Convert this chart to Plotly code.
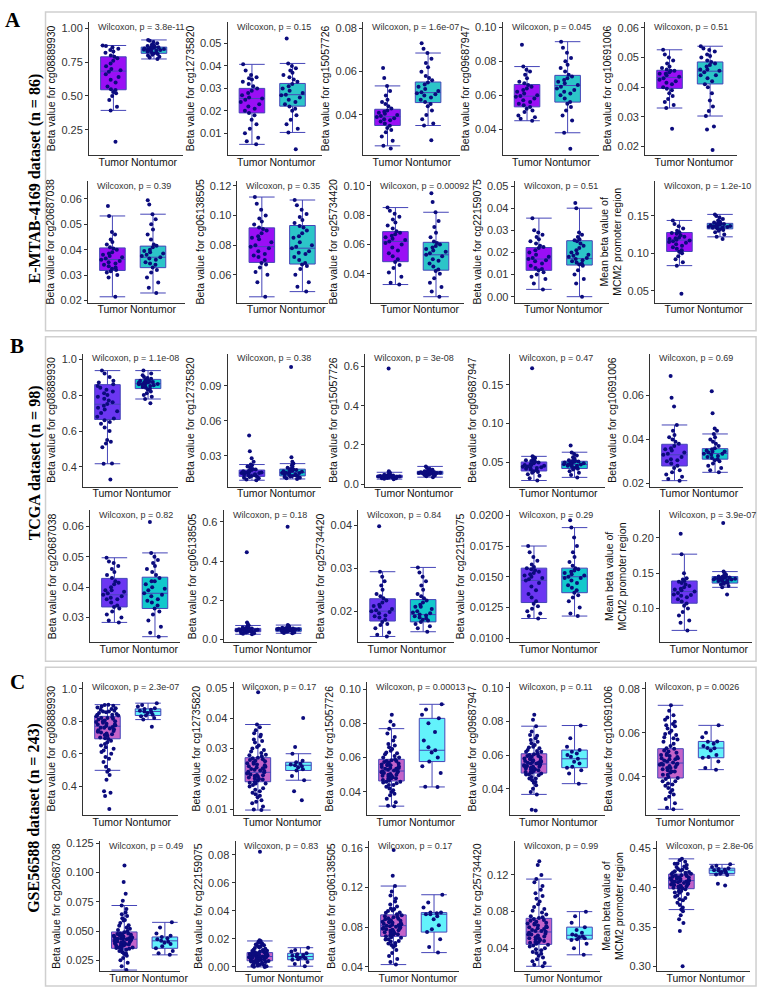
import plotly.graph_objects as go

# ---------------- DATA ----------------
GROUPS = ["Tumor", "Nontumor"]
PANELS = ["A", "B", "C"]
DATASETS = ["E-MTAB-4169 dataset (n = 86)", "TCGA dataset (n = 98)", "GSE56588 dataset (n = 243)"]

A_PROBES = ["cg08889930", "cg12735820", "cg15057726", "cg09687947", "cg10691006",
            "cg20687038", "cg06138505", "cg25734420", "cg22159075", "MCM2"]
B_PROBES = ["cg08889930", "cg12735820", "cg15057726", "cg09687947", "cg10691006",
            "cg20687038", "cg06138505", "cg25734420", "cg22159075", "MCM2"]
C_PROBES = ["cg08889930", "cg12735820", "cg15057726", "cg09687947", "cg10691006",
            "cg20687038", "cg22159075", "cg06138505", "cg25734420", "MCM2"]

A_PVALUES = ["3.8e-11", "0.15", "1.6e-07", "0.045", "0.51", "0.39", "0.35", "0.00092", "0.51", "1.2e-10"]
B_PVALUES = ["1.1e-08", "0.38", "3e-08", "0.47", "0.69", "0.82", "0.18", "0.84", "0.29", "3.9e-07"]
C_PVALUES = ["2.3e-07", "0.17", "0.00013", "0.11", "0.0026", "0.49", "0.83", "0.17", "0.99", "2.8e-06"]

# tick values / labels per subplot (1..30)
TV01 = [0.25, 0.5, 0.75, 1.0]; TL01 = ["0.25", "0.50", "0.75", "1.00"]
TV02 = [0.01, 0.02, 0.03, 0.04, 0.05]; TL02 = ["0.01", "0.02", "0.03", "0.04", "0.05"]
TV03 = [0.04, 0.06, 0.08]; TL03 = ["0.04", "0.06", "0.08"]
TV04 = [0.04, 0.06, 0.08, 0.10]; TL04 = ["0.04", "0.06", "0.08", "0.10"]
TV05 = [0.02, 0.03, 0.04, 0.05, 0.06]; TL05 = ["0.02", "0.03", "0.04", "0.05", "0.06"]
TV06 = [0.02, 0.03, 0.04, 0.05, 0.06]; TL06 = ["0.02", "0.03", "0.04", "0.05", "0.06"]
TV07 = [0.06, 0.08, 0.10, 0.12]; TL07 = ["0.06", "0.08", "0.10", "0.12"]
TV08 = [0.04, 0.06, 0.08, 0.10]; TL08 = ["0.04", "0.06", "0.08", "0.10"]
TV09 = [0.0, 0.01, 0.02, 0.03, 0.04, 0.05]; TL09 = ["0.00", "0.01", "0.02", "0.03", "0.04", "0.05"]
TV10 = [0.05, 0.10, 0.15]; TL10 = ["0.05", "0.10", "0.15"]
TV11 = [0.4, 0.6, 0.8, 1.0]; TL11 = ["0.4", "0.6", "0.8", "1.0"]
TV12 = [0.03, 0.06, 0.09]; TL12 = ["0.03", "0.06", "0.09"]
TV13 = [0.0, 0.2, 0.4, 0.6]; TL13 = ["0.0", "0.2", "0.4", "0.6"]
TV14 = [0.05, 0.10, 0.15]; TL14 = ["0.05", "0.10", "0.15"]
TV15 = [0.02, 0.04, 0.06]; TL15 = ["0.02", "0.04", "0.06"]
TV16 = [0.03, 0.04, 0.05, 0.06]; TL16 = ["0.03", "0.04", "0.05", "0.06"]
TV17 = [0.0, 0.2, 0.4, 0.6]; TL17 = ["0.0", "0.2", "0.4", "0.6"]
TV18 = [0.02, 0.03, 0.04]; TL18 = ["0.02", "0.03", "0.04"]
TV19 = [0.01, 0.0125, 0.015, 0.0175, 0.02]; TL19 = ["0.0100", "0.0125", "0.0150", "0.0175", "0.0200"]
TV20 = [0.10, 0.15, 0.20]; TL20 = ["0.10", "0.15", "0.20"]
TV21 = [0.4, 0.6, 0.8, 1.0]; TL21 = ["0.4", "0.6", "0.8", "1.0"]
TV22 = [0.01, 0.02, 0.03, 0.04, 0.05]; TL22 = ["0.01", "0.02", "0.03", "0.04", "0.05"]
TV23 = [0.04, 0.06, 0.08, 0.10]; TL23 = ["0.04", "0.06", "0.08", "0.10"]
TV24 = [0.04, 0.06, 0.08, 0.10]; TL24 = ["0.04", "0.06", "0.08", "0.10"]
TV25 = [0.04, 0.06, 0.08]; TL25 = ["0.04", "0.06", "0.08"]
TV26 = [0.025, 0.05, 0.075, 0.1, 0.125]; TL26 = ["0.025", "0.050", "0.075", "0.100", "0.125"]
TV27 = [0.0, 0.02, 0.04, 0.06, 0.08]; TL27 = ["0.00", "0.02", "0.04", "0.06", "0.08"]
TV28 = [0.04, 0.08, 0.12, 0.16]; TL28 = ["0.04", "0.08", "0.12", "0.16"]
TV29 = [0.04, 0.08, 0.12]; TL29 = ["0.04", "0.08", "0.12"]
TV30 = [0.30, 0.35, 0.40, 0.45]; TL30 = ["0.30", "0.35", "0.40", "0.45"]

# box statistics [lower whisker, Q1, median, Q3, upper whisker]
TS01 = [0.393, 0.546, 0.684, 0.79, 0.874]; NS01 = [0.774, 0.816, 0.842, 0.862, 0.915]
TS02 = [0.0051, 0.0191, 0.0255, 0.030, 0.0407]; NS02 = [0.0104, 0.0221, 0.0272, 0.0322, 0.0411]
TS03 = [0.0257, 0.0351, 0.0392, 0.0426, 0.0534]; NS03 = [0.0351, 0.0457, 0.0503, 0.0552, 0.0686]
TS04 = [0.0449, 0.0531, 0.0594, 0.0663, 0.0769]; NS04 = [0.0378, 0.0559, 0.0657, 0.0717, 0.0916]
TS05 = [0.033, 0.0396, 0.0433, 0.0457, 0.0526]; NS05 = [0.0303, 0.0411, 0.0454, 0.0485, 0.0538]
TS06 = [0.0214, 0.0318, 0.0361, 0.0407, 0.0533]; NS06 = [0.0229, 0.0329, 0.037, 0.0414, 0.054]
TS07 = [0.0452, 0.0684, 0.079, 0.0917, 0.1125]; NS07 = [0.0487, 0.0673, 0.078, 0.0933, 0.1105]
TS08 = [0.0327, 0.0483, 0.0621, 0.0688, 0.0852]; NS08 = [0.0244, 0.0425, 0.053, 0.0615, 0.082]
TS09 = [0.0033, 0.0119, 0.017, 0.0222, 0.0355]; NS09 = [0.0, 0.0143, 0.0172, 0.0253, 0.040]
TS10 = [0.0835, 0.1024, 0.1176, 0.1278, 0.1439]; NS10 = [0.122, 0.1327, 0.136, 0.14, 0.152]
TS11 = [0.418, 0.664, 0.749, 0.858, 0.936]; NS11 = [0.778, 0.836, 0.864, 0.887, 0.936]
TS12 = [0.0093, 0.0126, 0.0154, 0.018, 0.0227]; NS12 = [0.0104, 0.013, 0.016, 0.0188, 0.0235]
TS13 = [0.025, 0.033, 0.038, 0.045, 0.06]; NS13 = [0.035, 0.05, 0.058, 0.065, 0.09]
TS14 = [0.027, 0.0392, 0.0445, 0.0508, 0.058]; NS14 = [0.031, 0.0424, 0.0475, 0.0517, 0.0633]
TS15 = [0.0212, 0.0279, 0.033, 0.0378, 0.0466]; NS15 = [0.025, 0.031, 0.0336, 0.0358, 0.0425]
TS16 = [0.0284, 0.0335, 0.0375, 0.0429, 0.0497]; NS16 = [0.0237, 0.033, 0.038, 0.0433, 0.0513]
TS17 = [0.025, 0.038, 0.046, 0.055, 0.07]; NS17 = [0.03, 0.04, 0.05, 0.058, 0.072]
TS18 = [0.0141, 0.0177, 0.020, 0.0229, 0.0292]; NS18 = [0.0152, 0.0175, 0.0192, 0.0227, 0.0302]
TS19 = [0.0116, 0.0129, 0.0147, 0.0157, 0.0175]; NS19 = [0.0118, 0.0137, 0.015, 0.0157, 0.019]
TS20 = [0.069, 0.1075, 0.124, 0.139, 0.177]; NS20 = [0.13, 0.136, 0.1416, 0.1453, 0.1523]
TS21 = [0.498, 0.692, 0.769, 0.83, 0.902]; NS21 = [0.81, 0.835, 0.86, 0.876, 0.911]
TS22 = [0.0098, 0.0191, 0.0222, 0.027, 0.0379]; NS22 = [0.0196, 0.0228, 0.0245, 0.0255, 0.0283]
TS23 = [0.0317, 0.0464, 0.0522, 0.059, 0.0769]; NS23 = [0.0429, 0.0577, 0.0643, 0.0829, 0.0911]
TS24 = [0.0366, 0.0493, 0.0547, 0.0608, 0.0772]; NS24 = [0.043, 0.0525, 0.0578, 0.063, 0.0776]
TS25 = [0.0253, 0.0395, 0.0463, 0.0528, 0.0725]; NS25 = [0.0433, 0.0487, 0.0531, 0.0561, 0.0634]
TS26 = [0.0167, 0.0353, 0.0431, 0.0493, 0.0719]; NS26 = [0.0297, 0.0353, 0.0417, 0.045, 0.0575]
TS27 = [0.0, 0.0044, 0.0074, 0.0102, 0.0185]; NS27 = [0.0005, 0.0051, 0.0074, 0.0097, 0.0137]
TS28 = [0.0423, 0.0708, 0.0816, 0.0925, 0.1216]; NS28 = [0.0544, 0.0751, 0.0931, 0.0948, 0.1128]
TS29 = [0.0204, 0.0443, 0.0578, 0.0727, 0.1155]; NS29 = [0.0329, 0.05, 0.0542, 0.0631, 0.08]
TS30 = [0.3722, 0.3988, 0.4091, 0.4174, 0.4368]; NS30 = [0.4162, 0.4182, 0.4224, 0.4249, 0.4298]

# sample points (Tumor = T, Nontumor = N)
T01 = [0.16, 0.393, 0.42, 0.47, 0.50, 0.52, 0.53, 0.545, 0.55, 0.57, 0.60, 0.62, 0.64, 0.66, 0.68, 0.69, 0.70, 0.72, 0.74, 0.76, 0.78, 0.79, 0.80, 0.82, 0.83, 0.84, 0.85, 0.86, 0.87, 0.874]
N01 = [0.774, 0.785, 0.79, 0.80, 0.805, 0.81, 0.815, 0.82, 0.825, 0.83, 0.835, 0.838, 0.84, 0.842, 0.845, 0.848, 0.85, 0.852, 0.855, 0.858, 0.86, 0.862, 0.865, 0.87, 0.875, 0.88, 0.89, 0.90, 0.915, 0.91]
T02 = [0.0051, 0.0065, 0.008, 0.010, 0.012, 0.014, 0.016, 0.018, 0.019, 0.020, 0.021, 0.022, 0.023, 0.024, 0.025, 0.0255, 0.026, 0.027, 0.028, 0.029, 0.030, 0.031, 0.032, 0.033, 0.034, 0.035, 0.0345, 0.036, 0.038, 0.0407]
N02 = [0.0029, 0.0104, 0.012, 0.014, 0.016, 0.018, 0.020, 0.021, 0.022, 0.023, 0.024, 0.025, 0.026, 0.027, 0.0272, 0.028, 0.029, 0.030, 0.031, 0.032, 0.033, 0.034, 0.035, 0.036, 0.037, 0.038, 0.039, 0.040, 0.0411, 0.0522]
T03 = [0.0245, 0.0257, 0.028, 0.030, 0.032, 0.033, 0.034, 0.035, 0.036, 0.037, 0.0375, 0.038, 0.0385, 0.039, 0.0395, 0.040, 0.0405, 0.041, 0.0415, 0.042, 0.043, 0.044, 0.045, 0.046, 0.047, 0.049, 0.051, 0.0534, 0.057, 0.0617]
N03 = [0.0283, 0.0351, 0.036, 0.038, 0.040, 0.042, 0.044, 0.045, 0.046, 0.047, 0.048, 0.049, 0.050, 0.0505, 0.051, 0.052, 0.053, 0.054, 0.055, 0.056, 0.057, 0.058, 0.060, 0.062, 0.064, 0.066, 0.0686, 0.0706, 0.0731, 0.0495]
T04 = [0.0449, 0.046, 0.047, 0.048, 0.050, 0.051, 0.052, 0.053, 0.054, 0.055, 0.056, 0.057, 0.058, 0.059, 0.0595, 0.060, 0.061, 0.062, 0.063, 0.064, 0.065, 0.066, 0.067, 0.068, 0.070, 0.072, 0.074, 0.0769, 0.075, 0.0898]
N04 = [0.0284, 0.0378, 0.045, 0.048, 0.051, 0.053, 0.055, 0.056, 0.058, 0.060, 0.062, 0.063, 0.064, 0.065, 0.066, 0.067, 0.068, 0.069, 0.070, 0.071, 0.072, 0.074, 0.076, 0.078, 0.080, 0.082, 0.085, 0.088, 0.0916, 0.061]
T05 = [0.026, 0.033, 0.034, 0.035, 0.036, 0.037, 0.038, 0.039, 0.0395, 0.040, 0.041, 0.042, 0.0425, 0.043, 0.0435, 0.044, 0.0445, 0.045, 0.0455, 0.046, 0.0465, 0.047, 0.048, 0.049, 0.050, 0.051, 0.0526, 0.0415, 0.0445, 0.0455]
N05 = [0.0189, 0.0258, 0.0268, 0.0303, 0.032, 0.0335, 0.0355, 0.038, 0.040, 0.041, 0.042, 0.043, 0.044, 0.045, 0.0455, 0.046, 0.047, 0.0475, 0.048, 0.0485, 0.049, 0.050, 0.051, 0.052, 0.0525, 0.053, 0.0538, 0.044, 0.046, 0.0505]
T06 = [0.0214, 0.029, 0.030, 0.031, 0.0315, 0.032, 0.0325, 0.033, 0.034, 0.0345, 0.035, 0.0355, 0.036, 0.0365, 0.037, 0.0375, 0.038, 0.0385, 0.039, 0.040, 0.0405, 0.041, 0.042, 0.043, 0.044, 0.046, 0.047, 0.0533, 0.0572, 0.0335]
N06 = [0.0229, 0.025, 0.027, 0.029, 0.031, 0.032, 0.033, 0.034, 0.035, 0.036, 0.0365, 0.037, 0.0375, 0.038, 0.039, 0.040, 0.041, 0.0415, 0.042, 0.044, 0.046, 0.048, 0.050, 0.052, 0.054, 0.0578, 0.0595, 0.0345, 0.0385, 0.0395]
T07 = [0.0452, 0.055, 0.060, 0.062, 0.065, 0.067, 0.068, 0.070, 0.072, 0.074, 0.076, 0.078, 0.079, 0.080, 0.082, 0.084, 0.086, 0.088, 0.090, 0.091, 0.092, 0.094, 0.096, 0.098, 0.100, 0.104, 0.108, 0.1125, 0.073, 0.085]
N07 = [0.0487, 0.052, 0.055, 0.060, 0.064, 0.066, 0.067, 0.068, 0.070, 0.072, 0.074, 0.076, 0.078, 0.079, 0.080, 0.082, 0.085, 0.088, 0.090, 0.092, 0.093, 0.095, 0.097, 0.099, 0.101, 0.104, 0.107, 0.1105, 0.075, 0.086]
T08 = [0.0327, 0.034, 0.038, 0.041, 0.044, 0.046, 0.048, 0.050, 0.052, 0.054, 0.056, 0.058, 0.060, 0.061, 0.062, 0.063, 0.064, 0.065, 0.066, 0.067, 0.068, 0.069, 0.071, 0.073, 0.075, 0.077, 0.079, 0.081, 0.083, 0.0852]
N08 = [0.0244, 0.028, 0.031, 0.034, 0.037, 0.040, 0.042, 0.043, 0.045, 0.047, 0.049, 0.050, 0.052, 0.053, 0.054, 0.055, 0.056, 0.057, 0.058, 0.059, 0.060, 0.061, 0.062, 0.065, 0.068, 0.072, 0.076, 0.082, 0.089, 0.095]
T09 = [0.0033, 0.006, 0.008, 0.009, 0.010, 0.011, 0.012, 0.013, 0.014, 0.015, 0.016, 0.017, 0.0175, 0.018, 0.019, 0.020, 0.021, 0.022, 0.0225, 0.023, 0.024, 0.025, 0.026, 0.027, 0.028, 0.029, 0.030, 0.0355, 0.0125, 0.0165]
N09 = [0.0, 0.006, 0.008, 0.010, 0.012, 0.014, 0.015, 0.016, 0.0165, 0.017, 0.0175, 0.018, 0.019, 0.020, 0.021, 0.022, 0.023, 0.024, 0.025, 0.026, 0.027, 0.028, 0.029, 0.040, 0.0423, 0.0145, 0.0155, 0.0185, 0.0195, 0.0255]
T10 = [0.046, 0.0835, 0.088, 0.092, 0.096, 0.100, 0.102, 0.104, 0.106, 0.108, 0.110, 0.112, 0.114, 0.116, 0.117, 0.118, 0.119, 0.120, 0.122, 0.124, 0.126, 0.127, 0.128, 0.130, 0.133, 0.136, 0.139, 0.1439, 0.115, 0.121]
N10 = [0.119, 0.122, 0.125, 0.128, 0.130, 0.131, 0.132, 0.133, 0.1335, 0.134, 0.1345, 0.135, 0.1355, 0.136, 0.1365, 0.137, 0.1375, 0.138, 0.1385, 0.139, 0.1395, 0.140, 0.141, 0.142, 0.144, 0.146, 0.148, 0.150, 0.152, 0.135]
T11 = [0.33, 0.418, 0.42, 0.51, 0.53, 0.54, 0.55, 0.60, 0.62, 0.64, 0.65, 0.66, 0.67, 0.68, 0.70, 0.71, 0.72, 0.73, 0.74, 0.75, 0.76, 0.77, 0.78, 0.79, 0.80, 0.81, 0.82, 0.83, 0.84, 0.85, 0.86, 0.87, 0.88, 0.90, 0.92, 0.936]
N11 = [0.755, 0.778, 0.79, 0.80, 0.81, 0.82, 0.83, 0.835, 0.84, 0.845, 0.85, 0.855, 0.86, 0.862, 0.865, 0.868, 0.87, 0.872, 0.875, 0.878, 0.88, 0.885, 0.89, 0.895, 0.90, 0.91, 0.92, 0.936, 0.86, 0.87, 0.85, 0.88]
T12 = [0.0093, 0.010, 0.011, 0.0115, 0.012, 0.0125, 0.013, 0.0135, 0.014, 0.0145, 0.015, 0.0155, 0.016, 0.0165, 0.017, 0.0175, 0.018, 0.0185, 0.019, 0.020, 0.021, 0.022, 0.0227, 0.025, 0.028, 0.034, 0.0475, 0.0135, 0.0155, 0.016]
N12 = [0.0104, 0.011, 0.0115, 0.012, 0.0125, 0.013, 0.0135, 0.014, 0.0145, 0.015, 0.0155, 0.016, 0.0165, 0.017, 0.0175, 0.018, 0.0185, 0.019, 0.020, 0.021, 0.022, 0.0235, 0.025, 0.029, 0.106, 0.0145, 0.0155, 0.0165, 0.0175, 0.013]
T13 = [0.025, 0.027, 0.029, 0.030, 0.031, 0.032, 0.033, 0.034, 0.035, 0.036, 0.037, 0.038, 0.039, 0.040, 0.041, 0.042, 0.043, 0.044, 0.045, 0.047, 0.050, 0.053, 0.056, 0.06, 0.065, 0.59, 0.034, 0.036, 0.039, 0.041]
N13 = [0.035, 0.04, 0.043, 0.046, 0.048, 0.05, 0.051, 0.052, 0.053, 0.054, 0.055, 0.056, 0.057, 0.058, 0.059, 0.06, 0.061, 0.062, 0.063, 0.064, 0.065, 0.067, 0.07, 0.073, 0.077, 0.082, 0.09, 0.055, 0.058, 0.06]
T14 = [0.027, 0.030, 0.033, 0.035, 0.037, 0.038, 0.039, 0.040, 0.041, 0.042, 0.043, 0.044, 0.0445, 0.045, 0.046, 0.047, 0.048, 0.049, 0.050, 0.051, 0.052, 0.053, 0.054, 0.055, 0.056, 0.057, 0.058, 0.171, 0.043, 0.047]
N14 = [0.031, 0.034, 0.037, 0.039, 0.041, 0.042, 0.043, 0.044, 0.045, 0.046, 0.047, 0.0475, 0.048, 0.049, 0.050, 0.051, 0.0515, 0.052, 0.053, 0.055, 0.057, 0.059, 0.061, 0.063, 0.072, 0.046, 0.048, 0.049, 0.050, 0.052]
T15 = [0.0212, 0.022, 0.023, 0.024, 0.025, 0.026, 0.027, 0.028, 0.029, 0.030, 0.031, 0.032, 0.033, 0.034, 0.035, 0.036, 0.037, 0.038, 0.039, 0.040, 0.041, 0.042, 0.044, 0.0466, 0.055, 0.059, 0.069, 0.0305, 0.0335, 0.0355]
N15 = [0.025, 0.026, 0.027, 0.028, 0.029, 0.030, 0.0305, 0.031, 0.0315, 0.032, 0.0325, 0.033, 0.0335, 0.034, 0.0345, 0.035, 0.0355, 0.036, 0.037, 0.038, 0.039, 0.040, 0.041, 0.0425, 0.044, 0.045, 0.052, 0.062, 0.0335, 0.0345]
T16 = [0.0284, 0.029, 0.030, 0.031, 0.032, 0.033, 0.0335, 0.034, 0.035, 0.036, 0.0365, 0.037, 0.0375, 0.038, 0.0385, 0.039, 0.040, 0.041, 0.042, 0.043, 0.044, 0.045, 0.046, 0.047, 0.048, 0.0497, 0.036, 0.039, 0.0415, 0.0485]
N16 = [0.0237, 0.025, 0.027, 0.029, 0.031, 0.032, 0.033, 0.034, 0.035, 0.036, 0.037, 0.038, 0.039, 0.040, 0.041, 0.042, 0.043, 0.044, 0.045, 0.046, 0.047, 0.048, 0.049, 0.050, 0.0513, 0.0615, 0.0355, 0.0375, 0.0395, 0.042]
T17 = [0.025, 0.028, 0.030, 0.032, 0.034, 0.036, 0.038, 0.040, 0.042, 0.044, 0.045, 0.046, 0.047, 0.048, 0.050, 0.052, 0.054, 0.055, 0.057, 0.060, 0.063, 0.066, 0.070, 0.078, 0.085, 0.445, 0.041, 0.043, 0.049, 0.051]
N17 = [0.030, 0.032, 0.034, 0.036, 0.038, 0.040, 0.042, 0.044, 0.046, 0.048, 0.049, 0.050, 0.051, 0.052, 0.053, 0.054, 0.055, 0.056, 0.058, 0.060, 0.062, 0.065, 0.068, 0.072, 0.575, 0.045, 0.047, 0.050, 0.053, 0.057]
T18 = [0.0141, 0.0145, 0.015, 0.016, 0.017, 0.0175, 0.018, 0.0185, 0.019, 0.0195, 0.020, 0.0205, 0.021, 0.0215, 0.022, 0.0225, 0.023, 0.024, 0.025, 0.026, 0.027, 0.028, 0.0292, 0.0398, 0.0188, 0.0198, 0.0202, 0.0212, 0.0168, 0.0235]
N18 = [0.0152, 0.016, 0.0165, 0.017, 0.0175, 0.018, 0.0185, 0.019, 0.0195, 0.020, 0.0205, 0.021, 0.0215, 0.022, 0.0225, 0.023, 0.024, 0.025, 0.026, 0.027, 0.028, 0.029, 0.0302, 0.0178, 0.0183, 0.0188, 0.0192, 0.0197, 0.021, 0.0235]
T19 = [0.0116, 0.0118, 0.012, 0.0122, 0.0124, 0.0126, 0.0128, 0.013, 0.0133, 0.0136, 0.0139, 0.0142, 0.0145, 0.0147, 0.0149, 0.015, 0.0151, 0.0152, 0.0153, 0.0155, 0.0156, 0.0157, 0.0158, 0.016, 0.0163, 0.0166, 0.017, 0.0175, 0.0148, 0.0154]
N19 = [0.0118, 0.012, 0.0125, 0.013, 0.0133, 0.0135, 0.0137, 0.0139, 0.0141, 0.0143, 0.0145, 0.0147, 0.0149, 0.015, 0.0151, 0.0152, 0.0153, 0.0154, 0.0155, 0.0156, 0.0157, 0.0159, 0.0162, 0.0166, 0.017, 0.0175, 0.0182, 0.019, 0.0196, 0.0149]
T20 = [0.069, 0.08, 0.083, 0.09, 0.095, 0.10, 0.104, 0.107, 0.11, 0.113, 0.116, 0.118, 0.12, 0.122, 0.124, 0.126, 0.128, 0.13, 0.132, 0.134, 0.136, 0.138, 0.139, 0.141, 0.143, 0.15, 0.177, 0.206, 0.119, 0.127]
N20 = [0.12, 0.13, 0.132, 0.134, 0.135, 0.136, 0.137, 0.138, 0.139, 0.14, 0.1405, 0.141, 0.1415, 0.142, 0.1425, 0.143, 0.1435, 0.144, 0.145, 0.1455, 0.146, 0.147, 0.148, 0.15, 0.1523, 0.221, 0.139, 0.141, 0.143, 0.145]
T21 = [0.26, 0.34, 0.36, 0.37, 0.44, 0.47, 0.49, 0.50, 0.52, 0.55, 0.57, 0.58, 0.60, 0.61, 0.62, 0.63, 0.64, 0.65, 0.66, 0.67, 0.68, 0.69, 0.695, 0.70, 0.71, 0.715, 0.72, 0.725, 0.73, 0.735, 0.74, 0.745, 0.75, 0.755, 0.76, 0.765, 0.77, 0.775, 0.78, 0.785, 0.79, 0.795, 0.80, 0.805, 0.81, 0.815, 0.82, 0.825, 0.83, 0.835, 0.84, 0.845, 0.85, 0.855, 0.86, 0.865, 0.87, 0.875, 0.88, 0.885, 0.89, 0.895, 0.90, 0.902, 0.76, 0.78, 0.80, 0.82, 0.84, 0.86]
N21 = [0.766, 0.81, 0.82, 0.83, 0.835, 0.84, 0.85, 0.855, 0.86, 0.865, 0.87, 0.875, 0.88, 0.89, 0.90, 0.911]
T22 = [0.0098, 0.010, 0.011, 0.012, 0.013, 0.014, 0.015, 0.016, 0.017, 0.0175, 0.018, 0.0185, 0.019, 0.0195, 0.020, 0.0205, 0.021, 0.0213, 0.0218, 0.0222, 0.0226, 0.023, 0.0235, 0.024, 0.0245, 0.025, 0.0255, 0.026, 0.0265, 0.027, 0.0275, 0.028, 0.029, 0.030, 0.031, 0.032, 0.033, 0.034, 0.035, 0.036, 0.037, 0.0379, 0.0485, 0.0155, 0.0165, 0.0188, 0.0198, 0.0208, 0.0215, 0.0228, 0.0238, 0.0248, 0.0258, 0.0268, 0.0285, 0.0305, 0.0325, 0.0345, 0.0125, 0.0145, 0.0202, 0.0224, 0.0233, 0.0242, 0.0262, 0.0295, 0.0185, 0.0212, 0.0252, 0.0278]
N22 = [0.013, 0.016, 0.0196, 0.021, 0.0228, 0.0232, 0.0238, 0.0242, 0.0245, 0.0248, 0.025, 0.0255, 0.026, 0.0283, 0.0305, 0.040]
T23 = [0.0317, 0.032, 0.034, 0.036, 0.038, 0.040, 0.041, 0.042, 0.043, 0.044, 0.045, 0.0455, 0.046, 0.0465, 0.047, 0.0475, 0.048, 0.0485, 0.049, 0.0495, 0.050, 0.0505, 0.051, 0.0515, 0.052, 0.0525, 0.053, 0.0535, 0.054, 0.0545, 0.055, 0.0555, 0.056, 0.0565, 0.057, 0.0575, 0.058, 0.0585, 0.059, 0.060, 0.061, 0.062, 0.063, 0.064, 0.065, 0.066, 0.067, 0.068, 0.070, 0.072, 0.074, 0.0769, 0.079, 0.081, 0.085, 0.048, 0.050, 0.052, 0.054, 0.056, 0.044, 0.046, 0.058, 0.060, 0.0495, 0.0515, 0.0535, 0.0555, 0.039, 0.0625]
N23 = [0.0429, 0.043, 0.051, 0.055, 0.0577, 0.060, 0.063, 0.0643, 0.066, 0.070, 0.075, 0.080, 0.0829, 0.085, 0.088, 0.0911]
T24 = [0.027, 0.0366, 0.038, 0.040, 0.042, 0.044, 0.045, 0.046, 0.047, 0.048, 0.0485, 0.049, 0.0495, 0.050, 0.0505, 0.051, 0.0515, 0.052, 0.0525, 0.053, 0.0535, 0.054, 0.0545, 0.055, 0.0555, 0.056, 0.0565, 0.057, 0.0575, 0.058, 0.0585, 0.059, 0.0595, 0.060, 0.0605, 0.061, 0.062, 0.063, 0.064, 0.065, 0.066, 0.067, 0.068, 0.069, 0.070, 0.072, 0.074, 0.0772, 0.081, 0.084, 0.050, 0.052, 0.054, 0.056, 0.058, 0.046, 0.062, 0.053, 0.055, 0.057, 0.0275, 0.0515, 0.0535, 0.0555, 0.0595, 0.0435, 0.0645, 0.0715, 0.0485, 0.0625]
N24 = [0.043, 0.049, 0.051, 0.0525, 0.053, 0.055, 0.056, 0.0578, 0.059, 0.060, 0.061, 0.062, 0.063, 0.065, 0.070, 0.0776]
T25 = [0.0253, 0.026, 0.028, 0.030, 0.032, 0.034, 0.035, 0.036, 0.037, 0.038, 0.039, 0.0395, 0.040, 0.041, 0.042, 0.0425, 0.043, 0.0435, 0.044, 0.0445, 0.045, 0.0455, 0.046, 0.0465, 0.047, 0.0475, 0.048, 0.0485, 0.049, 0.0495, 0.050, 0.0505, 0.051, 0.052, 0.0528, 0.054, 0.055, 0.056, 0.057, 0.058, 0.059, 0.060, 0.061, 0.062, 0.063, 0.064, 0.065, 0.066, 0.067, 0.068, 0.070, 0.0725, 0.031, 0.033, 0.038, 0.041, 0.044, 0.046, 0.048, 0.050, 0.053, 0.0515, 0.0455, 0.0425, 0.0365, 0.0575, 0.0595, 0.0635, 0.0455, 0.0485]
N25 = [0.0433, 0.044, 0.047, 0.0487, 0.049, 0.050, 0.052, 0.053, 0.0531, 0.054, 0.055, 0.056, 0.0561, 0.058, 0.060, 0.0634]
T26 = [0.0167, 0.02, 0.023, 0.025, 0.027, 0.029, 0.031, 0.032, 0.033, 0.034, 0.035, 0.0355, 0.036, 0.037, 0.038, 0.0385, 0.039, 0.0395, 0.040, 0.0405, 0.041, 0.0415, 0.042, 0.0425, 0.043, 0.0435, 0.044, 0.0445, 0.045, 0.0455, 0.046, 0.0465, 0.047, 0.0475, 0.048, 0.049, 0.050, 0.051, 0.052, 0.053, 0.055, 0.057, 0.059, 0.061, 0.063, 0.066, 0.069, 0.0719, 0.076, 0.082, 0.092, 0.106, 0.034, 0.036, 0.038, 0.040, 0.042, 0.044, 0.046, 0.048, 0.0375, 0.0412, 0.0448, 0.0472, 0.0395, 0.0435, 0.0305, 0.0545, 0.0595, 0.0645]
N26 = [0.0297, 0.031, 0.033, 0.0353, 0.037, 0.039, 0.040, 0.041, 0.0417, 0.043, 0.044, 0.045, 0.046, 0.048, 0.053, 0.0575]
T27 = [0.0, 0.0005, 0.001, 0.0015, 0.002, 0.0025, 0.003, 0.0035, 0.004, 0.0045, 0.005, 0.0055, 0.006, 0.0065, 0.007, 0.0075, 0.008, 0.0085, 0.009, 0.0095, 0.010, 0.0105, 0.011, 0.0115, 0.012, 0.013, 0.014, 0.015, 0.016, 0.017, 0.018, 0.0185, 0.019, 0.082, 0.0042, 0.0052, 0.0062, 0.0072, 0.0082, 0.0092, 0.0068, 0.0078, 0.0058, 0.0088, 0.0048, 0.0098, 0.0038, 0.0108, 0.0002, 0.0012, 0.0022, 0.0032, 0.0066, 0.0076, 0.0086, 0.0122, 0.0135, 0.0145, 0.0155, 0.0165, 0.0064, 0.0074, 0.0084, 0.0054, 0.0044, 0.0094, 0.0104, 0.0114, 0.0175, 0.0008]
N27 = [0.0005, 0.002, 0.0035, 0.0051, 0.0055, 0.006, 0.0065, 0.007, 0.0074, 0.008, 0.0085, 0.009, 0.0097, 0.011, 0.012, 0.0137]
T28 = [0.0423, 0.045, 0.048, 0.051, 0.054, 0.057, 0.060, 0.062, 0.064, 0.066, 0.068, 0.070, 0.071, 0.072, 0.073, 0.074, 0.075, 0.076, 0.077, 0.078, 0.079, 0.080, 0.081, 0.082, 0.083, 0.084, 0.085, 0.086, 0.087, 0.088, 0.089, 0.090, 0.091, 0.092, 0.093, 0.095, 0.097, 0.099, 0.101, 0.103, 0.106, 0.109, 0.112, 0.116, 0.1216, 0.132, 0.158, 0.0745, 0.0765, 0.0785, 0.0805, 0.0825, 0.0845, 0.0865, 0.0885, 0.0725, 0.0905, 0.0695, 0.0945, 0.0675, 0.0655, 0.0965, 0.0985, 0.0635, 0.0615, 0.0835, 0.0815, 0.0795, 0.0775, 0.0855]
N28 = [0.0544, 0.060, 0.068, 0.0751, 0.078, 0.082, 0.088, 0.091, 0.0931, 0.093, 0.094, 0.0948, 0.095, 0.100, 0.105, 0.1128]
T29 = [0.0204, 0.022, 0.024, 0.026, 0.028, 0.030, 0.032, 0.034, 0.036, 0.038, 0.040, 0.042, 0.044, 0.045, 0.046, 0.047, 0.048, 0.049, 0.050, 0.051, 0.052, 0.053, 0.054, 0.055, 0.056, 0.057, 0.058, 0.059, 0.060, 0.061, 0.062, 0.063, 0.064, 0.065, 0.066, 0.067, 0.068, 0.069, 0.070, 0.071, 0.072, 0.073, 0.075, 0.077, 0.079, 0.081, 0.083, 0.085, 0.088, 0.091, 0.094, 0.097, 0.100, 0.104, 0.108, 0.112, 0.1155, 0.12, 0.131, 0.135, 0.043, 0.047, 0.051, 0.055, 0.059, 0.063, 0.039, 0.035, 0.067, 0.074]
N29 = [0.0329, 0.040, 0.045, 0.049, 0.050, 0.051, 0.052, 0.053, 0.0542, 0.055, 0.057, 0.060, 0.0631, 0.068, 0.075, 0.080]
T30 = [0.30, 0.345, 0.355, 0.36, 0.365, 0.37, 0.3722, 0.375, 0.378, 0.381, 0.384, 0.387, 0.39, 0.392, 0.394, 0.396, 0.398, 0.399, 0.4, 0.401, 0.402, 0.403, 0.404, 0.405, 0.406, 0.407, 0.408, 0.409, 0.41, 0.411, 0.412, 0.413, 0.414, 0.415, 0.416, 0.417, 0.418, 0.419, 0.42, 0.421, 0.422, 0.423, 0.424, 0.425, 0.427, 0.429, 0.431, 0.433, 0.435, 0.4368, 0.3995, 0.4015, 0.4035, 0.4055, 0.4075, 0.4095, 0.4115, 0.4135, 0.4155, 0.4175, 0.4195, 0.4045, 0.4085, 0.4125, 0.3955, 0.3935, 0.3885, 0.3855, 0.4265, 0.4305]
N30 = [0.403, 0.405, 0.4162, 0.417, 0.418, 0.419, 0.42, 0.421, 0.422, 0.4224, 0.423, 0.424, 0.425, 0.4265, 0.428, 0.4298]

# ---------------- TABLES BUILT FROM THE DATA ----------------
PROBES = A_PROBES + B_PROBES + C_PROBES
PVALUES = A_PVALUES + B_PVALUES + C_PVALUES
TICKVALS = [TV01, TV02, TV03, TV04, TV05, TV06, TV07, TV08, TV09, TV10, TV11, TV12, TV13, TV14, TV15,
            TV16, TV17, TV18, TV19, TV20, TV21, TV22, TV23, TV24, TV25, TV26, TV27, TV28, TV29, TV30]
TICKLABELS = [TL01, TL02, TL03, TL04, TL05, TL06, TL07, TL08, TL09, TL10, TL11, TL12, TL13, TL14, TL15,
              TL16, TL17, TL18, TL19, TL20, TL21, TL22, TL23, TL24, TL25, TL26, TL27, TL28, TL29, TL30]
T_STATS = [TS01, TS02, TS03, TS04, TS05, TS06, TS07, TS08, TS09, TS10, TS11, TS12, TS13, TS14, TS15,
           TS16, TS17, TS18, TS19, TS20, TS21, TS22, TS23, TS24, TS25, TS26, TS27, TS28, TS29, TS30]
N_STATS = [NS01, NS02, NS03, NS04, NS05, NS06, NS07, NS08, NS09, NS10, NS11, NS12, NS13, NS14, NS15,
           NS16, NS17, NS18, NS19, NS20, NS21, NS22, NS23, NS24, NS25, NS26, NS27, NS28, NS29, NS30]
T_POINTS = [T01, T02, T03, T04, T05, T06, T07, T08, T09, T10, T11, T12, T13, T14, T15,
            T16, T17, T18, T19, T20, T21, T22, T23, T24, T25, T26, T27, T28, T29, T30]
N_POINTS = [N01, N02, N03, N04, N05, N06, N07, N08, N09, N10, N11, N12, N13, N14, N15,
            N16, N17, N18, N19, N20, N21, N22, N23, N24, N25, N26, N27, N28, N29, N30]

# ---------------- LAYOUT / STYLE ----------------
W, H = 767, 992
Y_RANGES = [(0.063, 1.049), (0.0004, 0.0596), (0.0215, 0.083), (0.0247, 0.1033), (0.0172, 0.062),
            (0.019, 0.0672), (0.0411, 0.1235), (0.0202, 0.1035), (-0.0028, 0.0524), (0.0337, 0.197),
            (0.291, 1.031), (0.0039, 0.1175), (-0.013, 0.667), (0.0192, 0.190), (0.0185, 0.0792),
            (0.0218, 0.0653), (-0.017, 0.659), (0.0127, 0.0435), (0.00965, 0.0204), (0.0519, 0.239),
            (0.222, 1.04), (0.0081, 0.0518), (0.0264, 0.104), (0.0242, 0.1034), (0.0226, 0.083),
            (0.0158, 0.127), (-0.003, 0.0897), (0.0357, 0.167), (0.0151, 0.157), (0.2938, 0.4595)]
ROW_Y = [(18, 152), (178, 301), (352, 486), (510, 643), (683, 817), (843, 974)]
ROW_X = [
    [(90, 185), (230, 325), (367, 465), (508, 605), (652, 745)],
    [(89, 187), (240, 331), (375, 469), (520, 615), (662, 760)],
    [(84, 180), (230, 324), (369, 466), (515, 611), (657, 751)],
    [(91, 182), (226, 320), (362, 459), (515, 606), (667, 760)],
    [(84, 180), (236, 324), (371, 466), (515, 611), (653, 748)],
    [(101, 182), (238, 324), (373, 464), (520, 606), (664, 758)],
]
PANEL_BOX = [(8, 329), (335, 662), (668, 989)]
PANEL_LETTER_XY = [(3, 16), (8, 344), (8, 683)]
DATASET_Y = [176, 462, 820]
FILLS = [("#9a0ff5", "#2cc5c8"), ("#6b36f2", "#12c8cc"), ("#c463c9", "#63f2fb")]
BOXLINE = "#4545b8"
POINT = "#0b0b7d"
AXC = "#333333"
FONT = "Liberation Sans"
SERIF = "Liberation Serif"
CAT_PX = 41.0      # pixel spacing between the two categories
BOXW = 0.63


def px_x(p):
    return p / W


def px_y(p):
    return 1 - p / H


fig = go.Figure()
layout = dict(width=W, height=H, margin=dict(l=0, r=0, t=0, b=0),
              paper_bgcolor="white", plot_bgcolor="white", showlegend=False,
              boxmode="overlay", font=dict(family=FONT, color="#222"))
annotations = []
shapes = []

for k in range(30):
    r, c = divmod(k, 5)
    panel = r // 2
    x0, x1 = ROW_X[r][c]
    yt, yb = ROW_Y[r]
    sfx = "" if k == 0 else str(k + 1)
    xref, yref = "x" + sfx, "y" + sfx
    tfill, nfill = FILLS[panel]
    lo = 0.4
    hi = lo + (x1 - x0) / CAT_PX

    for xpos, st, pts, fill in ((1, T_STATS[k], T_POINTS[k], tfill), (2, N_STATS[k], N_POINTS[k], nfill)):
        fig.add_trace(go.Box(x=[xpos], lowerfence=[st[0]], q1=[st[1]], median=[st[2]], q3=[st[3]],
                             upperfence=[st[4]], width=BOXW, whiskerwidth=1, fillcolor=fill,
                             line=dict(color=BOXLINE, width=1), boxpoints=False,
                             xaxis=xref, yaxis=yref, hoverinfo="skip"))
        fig.add_trace(go.Box(x=[xpos] * len(pts), y=pts, width=BOXW, boxpoints="all", jitter=0.9,
                             pointpos=0, fillcolor="rgba(0,0,0,0)",
                             line=dict(color="rgba(0,0,0,0)", width=0),
                             marker=dict(size=4, color=POINT), xaxis=xref, yaxis=yref))

    probe = PROBES[k]
    title = ("Mean beta value of<br>MCM2 promoter region" if probe == "MCM2"
             else "Beta value for " + probe)
    layout["xaxis" + sfx] = dict(domain=[px_x(x0), px_x(x1)], range=[lo, hi], anchor=yref,
                                 tickvals=[1, 2], ticktext=GROUPS, showline=True, linecolor=AXC,
                                 linewidth=1, ticks="", ticklabelstandoff=-3, tickangle=0,
                                 showgrid=False, zeroline=False,
                                 tickfont=dict(size=10.5, color="#111", family=FONT))
    layout["yaxis" + sfx] = dict(domain=[px_y(yb), px_y(yt)], range=list(Y_RANGES[k]), anchor=xref,
                                 tickvals=TICKVALS[k], ticktext=TICKLABELS[k], showline=True,
                                 linecolor=AXC, linewidth=1, ticks="outside", ticklen=3,
                                 tickcolor=AXC, showgrid=False, zeroline=False,
                                 tickfont=dict(size=11, color="#333", family=FONT),
                                 title=dict(text=title, standoff=3,
                                            font=dict(size=10.5, color="#111", family=FONT)))
    annotations.append(dict(x=px_x(x0 + 7), y=px_y(yt + 5), xref="paper", yref="paper",
                            text="Wilcoxon, p = " + PVALUES[k], showarrow=False,
                            xanchor="left", yanchor="middle",
                            font=dict(size=9, color="#333", family=FONT)))

for i in range(3):
    t, b = PANEL_BOX[i]
    shapes.append(dict(type="rect", xref="paper", yref="paper", x0=px_x(46), x1=px_x(764),
                       y0=px_y(b), y1=px_y(t), line=dict(color="#cfcfcf", width=1.5)))
    lx, ly = PANEL_LETTER_XY[i]
    annotations.append(dict(x=px_x(lx), y=px_y(ly), xref="paper", yref="paper",
                            text="<b>" + PANELS[i] + "</b>", showarrow=False,
                            xanchor="left", yanchor="middle",
                            font=dict(size=21, color="black", family=SERIF)))
    annotations.append(dict(x=px_x(35), y=px_y(DATASET_Y[i]), xref="paper", yref="paper",
                            text="<b>" + DATASETS[i] + "</b>", showarrow=False, textangle=-90,
                            xanchor="center", yanchor="middle",
                            font=dict(size=16, color="black", family=SERIF)))

layout["annotations"] = annotations
layout["shapes"] = shapes
fig.update_layout(**layout)
fig.write_html("out.html", config={"displayModeBar": False},
               post_script="document.body.style.margin='0';document.body.style.padding='0';")
